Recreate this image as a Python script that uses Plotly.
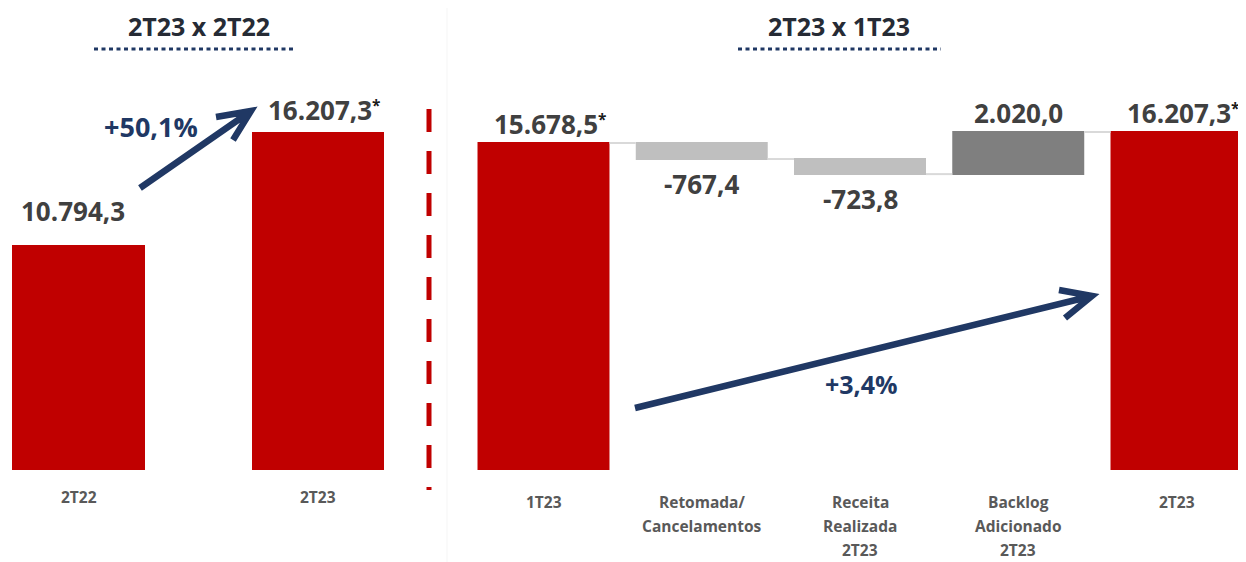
import plotly.graph_objects as go

# page has an 8px body margin; figure is sized to fit in the 1246x562 window
OFF = 8
W, H = 1246 - OFF, 562 - OFF

# ---------------- data ----------------
left_cats = ["2T22", "2T23"]
left_vals = [10794.3, 16207.3]
left_star = [False, True]

right_cats = ["1T23", "Retomada/<br>Cancelamentos", "Receita<br>Realizada<br>2T23",
              "Backlog<br>Adicionado<br>2T23", "2T23"]
right_vals = [15678.5, -767.4, -723.8, 2020.0, 16207.3]
right_measure = ["absolute", "relative", "relative", "relative", "total"]
right_star = [True, False, False, False, True]

left_title = "2T23 x 2T22"
right_title = "2T23 x 1T23"
left_growth = "+50,1%"
right_growth = "+3,4%"

# ---------------- styles ----------------
RED = "#C00000"
LGRAY = "#BFBFBF"
DGRAY = "#7F7F7F"
NAVY = "#203864"
LABEL = "#404040"
TICK = "#595959"
FONT = "Open Sans"

Y_BASE_PX = 470          # pixel row (in window) of zero
PX_PER_UNIT = 0.020855


def px(x):
    return (x - OFF) / W


def py(y):
    return 1 - (y - OFF) / H


Y_TOP = (Y_BASE_PX - OFF) / PX_PER_UNIT


def br(v):
    s = f"{abs(v):,.1f}".replace(",", "X").replace(".", ",").replace("X", ".")
    return ("-" if v < 0 else "") + s


fig = go.Figure()

fig.add_trace(go.Bar(
    x=left_cats, y=left_vals, width=0.555, marker=dict(color=RED, line=dict(width=0)),
    xaxis="x", yaxis="y", hoverinfo="skip", showlegend=False))

fig.add_trace(go.Waterfall(
    x=right_cats, y=right_vals, measure=right_measure, width=0.834,
    xaxis="x2", yaxis="y", hoverinfo="skip", showlegend=False,
    increasing=dict(marker=dict(color=DGRAY, line=dict(width=0))),
    decreasing=dict(marker=dict(color=LGRAY, line=dict(width=0))),
    totals=dict(marker=dict(color=RED, line=dict(width=0))),
    connector=dict(line=dict(color="#D9D9D9", width=2)),
    textposition="none"))

annotations = []
label_font = dict(family=FONT, size=26, color=LABEL, weight="bold")
star = "<span style='font-size:22px;color:#1a1a1a'><sup>*</sup></span>"

# left value labels
left_shift = [14, 2]
for c, v, st, sh in zip(left_cats, left_vals, left_star, left_shift):
    t = br(v) + (star if st else "")
    annotations.append(dict(x=c, y=v, xref="x", yref="y", text=t, showarrow=False,
                            xanchor="center", yanchor="bottom", yshift=sh, font=label_font,
                            xshift=(6 if st else -6)))

# right value labels (computed from running totals)
level = 0.0
for c, v, m, st in zip(right_cats, right_vals, right_measure, right_star):
    if m == "absolute":
        level = v
        top, bottom = v, 0.0
    elif m == "total":
        v = level
        top, bottom = level, 0.0
    else:
        start = level
        level = level + v
        top, bottom = max(start, level), min(start, level)
    t = br(v) + (star if st else "")
    if m == "relative" and v < 0:
        annotations.append(dict(x=c, y=bottom, xref="x2", yref="y", text=t, showarrow=False,
                                xanchor="center", yanchor="top", yshift=-5, font=label_font))
    else:
        annotations.append(dict(x=c, y=top, xref="x2", yref="y", text=t, showarrow=False,
                                xanchor="center", yanchor="bottom", yshift=-1, font=label_font,
                                xshift=6 if st else 0))

# category labels (one annotation per line for spacing control)
tick_font = dict(family=FONT, size=15.5, color=TICK, weight="bold")
for axis, cats, first in [("x", left_cats, 27), ("x2", right_cats, 32)]:
    for c in cats:
        for i, line in enumerate(c.split("<br>")):
            annotations.append(dict(x=c, y=0, xref=axis, yref="y", text=line, showarrow=False,
                                    xanchor="center", yanchor="middle", borderpad=0,
                                    yshift=-(first + 24 * i), font=tick_font))

# titles
title_font = dict(family=FONT, size=25, color="#262B35", weight="bold")
annotations.append(dict(x=px(199), y=py(26), xref="paper", yref="paper", text=left_title,
                        showarrow=False, xanchor="center", yanchor="middle", font=title_font))
annotations.append(dict(x=px(839), y=py(26), xref="paper", yref="paper", text=right_title,
                        showarrow=False, xanchor="center", yanchor="middle", font=title_font))

# growth labels
annotations.append(dict(x=px(151), y=py(127), xref="paper", yref="paper", text=left_growth,
                        showarrow=False, xanchor="center", yanchor="middle",
                        font=dict(family=FONT, size=27, color=NAVY, weight="bold")))
annotations.append(dict(x=px(862), y=py(384), xref="paper", yref="paper", text=right_growth,
                        showarrow=False, xanchor="center", yanchor="middle",
                        font=dict(family=FONT, size=25, color=NAVY, weight="bold")))

shapes = []
# dotted underlines
for x0, x1 in [(94, 296), (738, 941)]:
    shapes.append(dict(type="line", xref="paper", yref="paper", x0=px(x0), x1=px(x1),
                       y0=py(49), y1=py(49), line=dict(color=NAVY, width=3, dash="4px,3.5px")))
# red dashed divider
shapes.append(dict(type="line", xref="paper", yref="paper", x0=px(429), x1=px(429),
                   y0=py(109), y1=py(490), line=dict(color=RED, width=5, dash="23px,19px")))
# faint panel border
shapes.append(dict(type="line", xref="paper", yref="paper", x0=px(447), x1=px(447),
                   y0=0, y1=1, line=dict(color="#F5F5F5", width=1)))


def arrow(tail, tip, a1, a2):
    p = lambda q: f"{px(q[0])},{py(q[1])}"
    path = f"M {p(tail)} L {p(tip)} M {p(a1)} L {p(tip)} L {p(a2)}"
    return dict(type="path", xref="paper", yref="paper", path=path,
                line=dict(color=NAVY, width=6.5))


shapes.append(arrow((140, 188), (251, 111), (216, 117), (233, 140)))
shapes.append(arrow((635, 408), (1092, 296), (1059, 290), (1065, 318)))

fig.update_layout(
    width=W, height=H,
    margin=dict(l=0, r=0, t=0, b=0),
    paper_bgcolor="white", plot_bgcolor="white",
    bargap=0,
    xaxis=dict(domain=[0, px(430)], range=[-(78.5 - OFF) / 239.5, (430 - 78.5) / 239.5],
               type="category", showgrid=False, zeroline=False, showline=False, ticks="",
               showticklabels=False),
    xaxis2=dict(domain=[px(448), 1], range=[-(543.5 - 448) / 158.25, (1246 - 543.5) / 158.25],
                type="category", anchor="y", showgrid=False, zeroline=False, showline=False,
                ticks="", showticklabels=False),
    yaxis=dict(domain=[py(Y_BASE_PX), 1], range=[0, Y_TOP], visible=False,
               showgrid=False, zeroline=False),
    annotations=annotations,
    shapes=shapes,
)

fig.write_html("out.html")
